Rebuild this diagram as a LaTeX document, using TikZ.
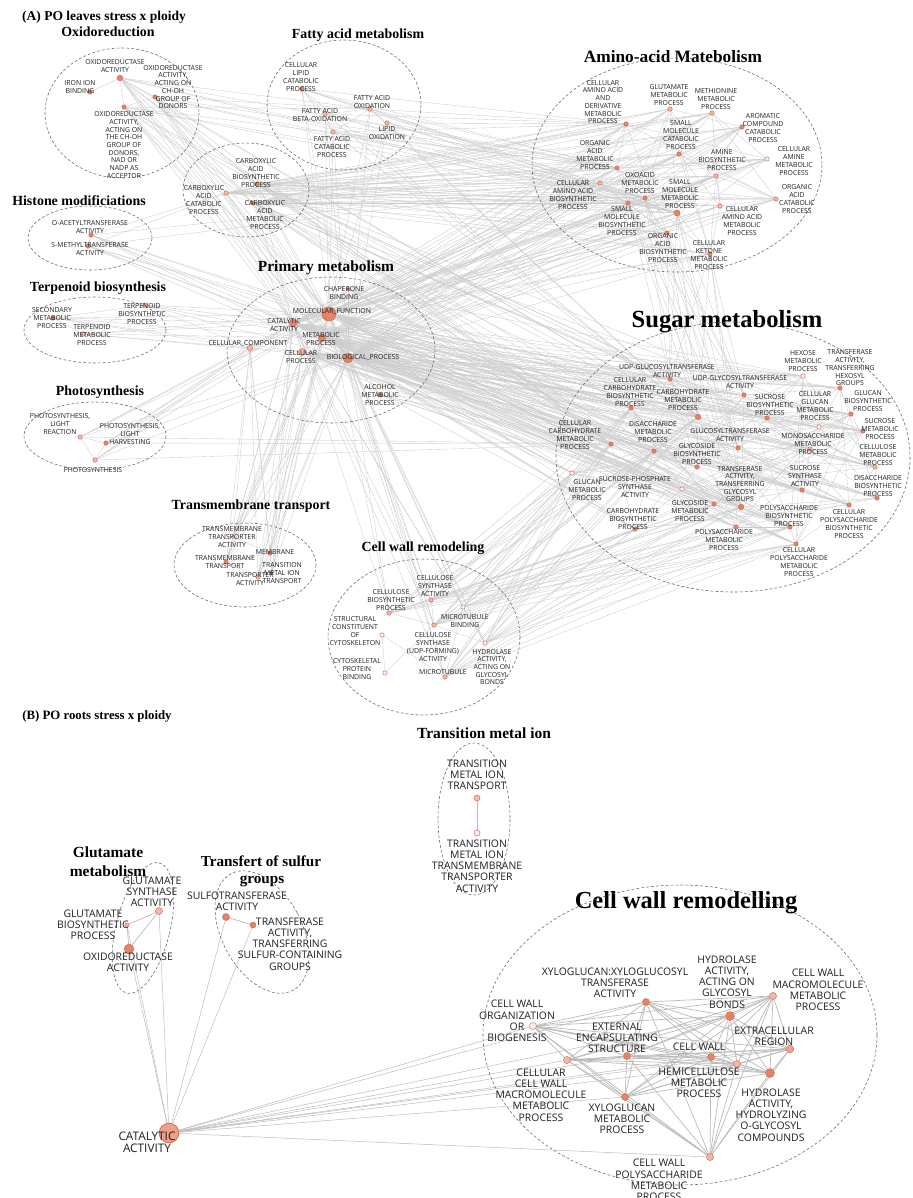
\documentclass[tikz,border=0pt]{standalone}
\usepackage{fontspec}
\setmainfont{Liberation Serif}
\newfontfamily\lblfont{Open Sans}
\usetikzlibrary{backgrounds}
\definecolor{dotfill}{RGB}{229,131,103}
\definecolor{dotline}{RGB}{200,102,78}
\definecolor{dotpale}{RGB}{243,184,166}
\definecolor{dotwhite}{RGB}{253,238,233}
\tikzset{term/.style={circle, draw=dotline, fill=dotfill, inner sep=0pt, minimum size=3.2pt, line width=0.3pt},
  termpale/.style={term, fill=dotpale},
  termhollow/.style={term, fill=dotwhite},
  lbl/.style={font=\lblfont\fontsize{4.9}{5.5}\selectfont, align=center, inner sep=0pt, text=black!88},
  lblB/.style={lbl, font=\lblfont\fontsize{7.4}{8}\selectfont},
  ttl/.style={font=\bfseries\fontsize{9.9}{12}\selectfont, inner sep=0pt, anchor=base},
  grp/.style={draw=black!60, line width=0.4pt, dash pattern=on 2pt off 1.5pt},
  lnk/.style={draw=black!20, line width=0.25pt},
  lnkB/.style={draw=black!27, line width=0.5pt}}

\begin{document}
\begin{tikzpicture}[x=0.025cm, y=-0.025cm]
  \useasboundingbox (0,0) rectangle (913,1198);

  % ---------- (A) leaves ----------
  \node[ttl, font=\bfseries\fontsize{9.6}{12}\selectfont] (ttlA) at (104,20) {(A) PO leaves stress x ploidy};

  % Oxidoreduction
  \node[ttl] (ttlox) at (108,36) {Oxidoreduction};
  \draw[grp] (122,113) ellipse [x radius=77, y radius=65];
  \node[term, minimum size=4pt] (ox1) at (120,78) {};
  \node[term] (ox2) at (155,97) {};
  \node[term] (ox3) at (90,92) {};
  \node[term] (ox4) at (124,107) {};
  \node[lbl] (ox1-t) at (115,66) {OXIDOREDUCTASE\\ACTIVITY};
  \node[lbl] (ox2-t) at (173,87) {OXIDOREDUCTASE\\ACTIVITY,\\ACTING ON\\CH-OH\\GROUP OF\\DONORS};
  \node[lbl] (ox3-t) at (80,87) {IRON ION\\BINDING};
  \node[lbl] (ox4-t) at (124,145) {OXIDOREDUCTASE\\ACTIVITY,\\ACTING ON\\THE CH-OH\\GROUP OF\\DONORS,\\NAD OR\\NADP AS\\ACCEPTOR};

  % Histone modificiations
  \node[ttl] (ttlhi) at (79,205) {Histone modificiations};
  \draw[grp] (90,238) ellipse [x radius=62, y radius=32];
  \node[term] (hi1) at (91,235) {};
  \node[term] (hi2) at (88,246) {};
  \node[lbl] (hi1-t) at (90,227) {O-ACETYLTRANSFERASE\\ACTIVITY};
  \node[lbl] (hi2-t) at (90,249) {S-METHYLTRANSFERASE\\ACTIVITY};

  % Terpenoid biosynthesis
  \node[ttl] (ttltp) at (98,291) {Terpenoid biosynthesis};
  \draw[grp] (95,330) ellipse [x radius=71, y radius=33];
  \node[term] (tp1) at (53,318) {};
  \node[termpale] (tp2) at (145,305) {};
  \node[termpale] (tp3) at (83,334) {};
  \node[lbl] (tp1-t) at (52,318) {SECONDARY\\METABOLIC\\PROCESS};
  \node[lbl] (tp2-t) at (142,314) {TERPENOID\\BIOSYNTHETIC\\PROCESS};
  \node[lbl] (tp3-t) at (92,335) {TERPENOID\\METABOLIC\\PROCESS};

  % Photosynthesis
  \node[ttl] (ttlph) at (100,395) {Photosynthesis};
  \draw[grp] (95,436) ellipse [x radius=71, y radius=34];
  \node[termpale] (ph1) at (80,437) {};
  \node[term] (ph2) at (106,443) {};
  \node[termpale] (ph3) at (95,460) {};
  \node[lbl] (ph1-t) at (60,424) {PHOTOSYNTHESIS,\\LIGHT\\REACTION};
  \node[lbl] (ph2-t) at (130,434) {PHOTOSYNTHESIS,\\LIGHT\\HARVESTING};
  \node[lbl] (ph3-t) at (93,470) {PHOTOSYNTHESIS};

  % Fatty acid metabolism
  \node[ttl] (ttlfa) at (358,38) {Fatty acid metabolism};
  \draw[grp] (344,105) ellipse [x radius=77, y radius=65];
  \node[term] (fa1) at (302,89) {};
  \node[termpale] (fa2) at (370,109) {};
  \node[termpale] (fa3) at (325,114) {};
  \node[termpale] (fa4) at (387,123) {};
  \node[termpale] (fa5) at (333,132) {};
  \node[lbl] (fa1-t) at (301,77) {CELLULAR\\LIPID\\CATABOLIC\\PROCESS};
  \node[lbl] (fa2-t) at (372,102) {FATTY ACID\\OXIDATION};
  \node[lbl] (fa3-t) at (320,115) {FATTY ACID\\BETA-OXIDATION};
  \node[lbl] (fa4-t) at (387,133) {LIPID\\OXIDATION};
  \node[lbl] (fa5-t) at (332,147) {FATTY ACID\\CATABOLIC\\PROCESS};

  % carboxylic acids
  \draw[grp] (246,190) ellipse [x radius=63, y radius=47];
  \node[term] (cb1) at (257,184) {};
  \node[termpale] (cb2) at (226,193) {};
  \node[term] (cb3) at (253,203) {};
  \node[lbl] (cb1-t) at (256,173) {CARBOXYLIC\\ACID\\BIOSYNTHETIC\\PROCESS};
  \node[lbl] (cb2-t) at (204,200) {CARBOXYLIC\\ACID\\CATABOLIC\\PROCESS};
  \node[lbl] (cb3-t) at (265,215) {CARBOXYLIC\\ACID\\METABOLIC\\PROCESS};

  % Amino-acid Matebolism
  \node[ttl, font=\bfseries\fontsize{12.3}{14}\selectfont] (ttlaa) at (673,62) {Amino-acid Matebolism};
  \draw[grp] (677,165) ellipse [x radius=145, y radius=107];
  \node[term] (aa1) at (626,124) {};
  \node[termpale] (aa2) at (670,109) {};
  \node[termpale] (aa3) at (712,113) {};
  \node[term] (aa4) at (742,127) {};
  \node[term] (aa5) at (679,154) {};
  \node[term] (aa6) at (617,168) {};
  \node[termpale] (aa7) at (716,176) {};
  \node[termhollow] (aa8) at (767,159) {};
  \node[term] (aa9) at (645,198) {};
  \node[termpale] (aa10) at (600,183) {};
  \node[term, minimum size=4.3pt] (aa11) at (677,213) {};
  \node[termpale] (aa12) at (776,199) {};
  \node[term] (aa13) at (628,203) {};
  \node[termpale] (aa14) at (720,206) {};
  \node[term] (aa15) at (667,233) {};
  \node[term] (aa16) at (710,254) {};
  \node[lbl] (aa1-t) at (603,102) {CELLULAR\\AMINO ACID\\AND\\DERIVATIVE\\METABOLIC\\PROCESS};
  \node[lbl] (aa2-t) at (669,95) {GLUTAMATE\\METABOLIC\\PROCESS};
  \node[lbl] (aa3-t) at (716,99) {METHIONINE\\METABOLIC\\PROCESS};
  \node[lbl] (aa4-t) at (763,128) {AROMATIC\\COMPOUND\\CATABOLIC\\PROCESS};
  \node[lbl] (aa5-t) at (681,135) {SMALL\\MOLECULE\\CATABOLIC\\PROCESS};
  \node[lbl] (aa6-t) at (595,155) {ORGANIC\\ACID\\METABOLIC\\PROCESS};
  \node[lbl] (aa7-t) at (722,160) {AMINE\\BIOSYNTHETIC\\PROCESS};
  \node[lbl] (aa8-t) at (794,161) {CELLULAR\\AMINE\\METABOLIC\\PROCESS};
  \node[lbl] (aa9-t) at (640,183) {OXOACID\\METABOLIC\\PROCESS};
  \node[lbl] (aa10-t) at (573,195) {CELLULAR\\AMINO ACID\\BIOSYNTHETIC\\PROCESS};
  \node[lbl] (aa11-t) at (680,194) {SMALL\\MOLECULE\\METABOLIC\\PROCESS};
  \node[lbl] (aa12-t) at (797,199) {ORGANIC\\ACID\\CATABOLIC\\PROCESS};
  \node[lbl] (aa13-t) at (622,221) {SMALL\\MOLECULE\\BIOSYNTHETIC\\PROCESS};
  \node[lbl] (aa14-t) at (742,221) {CELLULAR\\AMINO ACID\\METABOLIC\\PROCESS};
  \node[lbl] (aa15-t) at (663,248) {ORGANIC\\ACID\\BIOSYNTHETIC\\PROCESS};
  \node[lbl] (aa16-t) at (709,255) {CELLULAR\\KETONE\\METABOLIC\\PROCESS};

  % Primary metabolism
  \node[ttl, font=\bfseries\fontsize{11}{13}\selectfont] (ttlpm) at (326,271) {Primary metabolism};
  \draw[grp] (331,350) ellipse [x radius=104, y radius=73];
  \node[term, minimum size=2.6pt] (chap) at (348,289) {};
  \node[term, minimum size=10pt] (mf) at (329,314) {};
  \node[term, minimum size=5.7pt] (ca) at (293,323) {};
  \node[term, minimum size=5pt] (mp) at (322,338) {};
  \node[termpale, minimum size=4pt] (cc) at (250,348) {};
  \node[termpale, minimum size=5pt] (cp) at (302,352) {};
  \node[term, minimum size=7pt] (bp) at (348,358) {};
  \node[term] (alc) at (380,395) {};
  \node[lbl] (chap-t) at (344,293) {CHAPERONE\\BINDING};
  \node[lbl] (mf-t) at (332,312) {MOLECULAR\_FUNCTION};
  \node[lbl] (ca-t) at (284,325) {CATALYTIC\\ACTIVITY};
  \node[lbl] (mp-t) at (321,339) {METABOLIC\\PROCESS};
  \node[lbl] (cc-t) at (248,344) {CELLULAR\_COMPONENT};
  \node[lbl] (cp-t) at (301,357) {CELLULAR\\PROCESS};
  \node[lbl] (bp-t) at (363,358) {BIOLOGICAL\_PROCESS};
  \node[lbl] (alc-t) at (380,395) {ALCOHOL\\METABOLIC\\PROCESS};

  % Sugar metabolism
  \node[ttl, font=\bfseries\fontsize{17.5}{20}\selectfont] (ttlsg) at (727,327) {Sugar metabolism};
  \draw[grp] (733,457) ellipse [x radius=177, y radius=135];
  \node[term] (sg1) at (670,379) {};
  \node[termhollow] (sg2) at (803,376) {};
  \node[term] (sg3) at (840,388) {};
  \node[term] (sg4) at (631,408) {};
  \node[term] (sg5) at (744,395) {};
  \node[term, minimum size=4pt] (sg6) at (698,417) {};
  \node[term] (sg7) at (767,418) {};
  \node[termhollow] (sg8) at (819,427) {};
  \node[term] (sg9) at (851,414) {};
  \node[term] (sg10) at (611,444) {};
  \node[term] (sg11) at (654,451) {};
  \node[term] (sg12) at (738,448) {};
  \node[term] (sg13) at (863,431) {};
  \node[termpale] (sg14) at (810,449) {};
  \node[term] (sg15) at (697,467) {};
  \node[termpale] (sg16) at (875,467) {};
  \node[termhollow] (sg17) at (572,473) {};
  \node[termhollow] (sg18) at (682,489) {};
  \node[term, minimum size=4pt] (sg19) at (741,507) {};
  \node[term] (sg20) at (802,490) {};
  \node[term] (sg21) at (877,498) {};
  \node[term] (sg22) at (714,504) {};
  \node[term] (sg23) at (635,529) {};
  \node[term] (sg24) at (790,527) {};
  \node[term] (sg25) at (849,505) {};
  \node[term] (sg26) at (736,527) {};
  \node[term] (sg27) at (796,544) {};
  \node[lbl] (sg1-t) at (667,371) {UDP-GLUCOSYLTRANSFERASE\\ACTIVITY};
  \node[lbl] (sg2-t) at (803,361) {HEXOSE\\METABOLIC\\PROCESS};
  \node[lbl] (sg3-t) at (850,368) {TRANSFERASE\\ACTIVITY,\\TRANSFERRING\\HEXOSYL\\GROUPS};
  \node[lbl] (sg4-t) at (630,392) {CELLULAR\\CARBOHYDRATE\\BIOSYNTHETIC\\PROCESS};
  \node[lbl] (sg5-t) at (740,382) {UDP-GLYCOSYLTRANSFERASE\\ACTIVITY};
  \node[lbl] (sg6-t) at (683,400) {CARBOHYDRATE\\METABOLIC\\PROCESS};
  \node[lbl] (sg7-t) at (770,405) {SUCROSE\\BIOSYNTHETIC\\PROCESS};
  \node[lbl] (sg8-t) at (815,406) {CELLULAR\\GLUCAN\\METABOLIC\\PROCESS};
  \node[lbl] (sg9-t) at (868,401) {GLUCAN\\BIOSYNTHETIC\\PROCESS};
  \node[lbl] (sg10-t) at (575,435) {CELLULAR\\CARBOHYDRATE\\METABOLIC\\PROCESS};
  \node[lbl] (sg11-t) at (653,432) {DISACCHARIDE\\METABOLIC\\PROCESS};
  \node[lbl] (sg12-t) at (730,435) {GLUCOSYLTRANSFERASE\\ACTIVITY};
  \node[lbl] (sg13-t) at (880,429) {SUCROSE\\METABOLIC\\PROCESS};
  \node[lbl] (sg14-t) at (813,444) {MONOSACCHARIDE\\METABOLIC\\PROCESS};
  \node[lbl] (sg15-t) at (697,454) {GLYCOSIDE\\BIOSYNTHETIC\\PROCESS};
  \node[lbl] (sg16-t) at (878,455) {CELLULOSE\\METABOLIC\\PROCESS};
  \node[lbl] (sg17-t) at (587,490) {GLUCAN\\METABOLIC\\PROCESS};
  \node[lbl] (sg18-t) at (635,487) {SUCROSE-PHOSPHATE\\SYNTHASE\\ACTIVITY};
  \node[lbl] (sg19-t) at (740,484) {TRANSFERASE\\ACTIVITY,\\TRANSFERRING\\GLYCOSYL\\GROUPS};
  \node[lbl] (sg20-t) at (805,476) {SUCROSE\\SYNTHASE\\ACTIVITY};
  \node[lbl] (sg21-t) at (878,486) {DISACCHARIDE\\BIOSYNTHETIC\\PROCESS};
  \node[lbl] (sg22-t) at (690,511) {GLYCOSIDE\\METABOLIC\\PROCESS};
  \node[lbl] (sg23-t) at (633,519) {CARBOHYDRATE\\BIOSYNTHETIC\\PROCESS};
  \node[lbl] (sg24-t) at (789,516) {POLYSACCHARIDE\\BIOSYNTHETIC\\PROCESS};
  \node[lbl] (sg25-t) at (849,524) {CELLULAR\\POLYSACCHARIDE\\BIOSYNTHETIC\\PROCESS};
  \node[lbl] (sg26-t) at (724,540) {POLYSACCHARIDE\\METABOLIC\\PROCESS};
  \node[lbl] (sg27-t) at (799,562) {CELLULAR\\POLYSACCHARIDE\\METABOLIC\\PROCESS};

  % Transmembrane transport
  \node[ttl] (ttltm) at (251,509) {Transmembrane transport};
  \draw[grp] (245,565) ellipse [x radius=71, y radius=42];
  \node[termpale, minimum size=2.6pt] (tm1) at (233,537) {};
  \node[term] (mem) at (270,553) {};
  \node[term] (tm2) at (226,562) {};
  \node[termpale, minimum size=2.6pt] (tm3) at (272,572) {};
  \node[termpale] (tm4) at (258,577) {};
  \node[lbl] (tm1-t) at (232,537) {TRANSMEMBRANE\\TRANSPORTER\\ACTIVITY};
  \node[lbl] (mem-t) at (275,552) {MEMBRANE};
  \node[lbl] (tm2-t) at (225,562) {TRANSMEMBRANE\\TRANSPORT};
  \node[lbl] (tm3-t) at (282,573) {TRANSITION\\METAL ION\\TRANSPORT};
  \node[lbl] (tm4-t) at (250,579) {TRANSPORTER\\ACTIVITY};

  % Cell wall remodeling
  \node[ttl] (ttlcw) at (423,551) {Cell wall remodeling};
  \draw[grp] (424,637) ellipse [x radius=96, y radius=78];
  \node[termpale] (cw1) at (431,600) {};
  \node[termpale] (cw2) at (389,613) {};
  \node[termhollow] (cw3) at (463,607) {};
  \node[termpale] (cw4) at (434,625) {};
  \node[termhollow] (cw5) at (382,635) {};
  \node[termhollow] (cw6) at (485,643) {};
  \node[termhollow] (cw7) at (385,673) {};
  \node[termpale] (cw8) at (445,677) {};
  \node[lbl] (cw1-t) at (435,586) {CELLULOSE\\SYNTHASE\\ACTIVITY};
  \node[lbl] (cw2-t) at (391,600) {CELLULOSE\\BIOSYNTHETIC\\PROCESS};
  \node[lbl] (cw3-t) at (465,621) {MICROTUBULE\\BINDING};
  \node[lbl] (cw4-t) at (433,647) {CELLULOSE\\SYNTHASE\\(UDP-FORMING)\\ACTIVITY};
  \node[lbl] (cw5-t) at (355,631) {STRUCTURAL\\CONSTITUENT\\OF\\CYTOSKELETON};
  \node[lbl] (cw6-t) at (492,667) {HYDROLASE\\ACTIVITY,\\ACTING ON\\GLYCOSYL\\BONDS};
  \node[lbl] (cw7-t) at (357,669) {CYTOSKELETAL\\PROTEIN\\BINDING};
  \node[lbl] (cw8-t) at (443,672) {MICROTUBULE};

  % ---------- (B) roots ----------
  \node[ttl, font=\bfseries\fontsize{9.1}{11}\selectfont] (ttlB) at (97,719) {(B) PO roots stress x ploidy};

  % Transition metal ion
  \node[ttl, font=\bfseries\fontsize{11}{13}\selectfont] (ttltr) at (484,738) {Transition metal ion};
  \draw[grp] (474,819) ellipse [x radius=36, y radius=76];
  \node[termpale, minimum size=4.3pt] (tmt) at (477,798) {};
  \node[termhollow, minimum size=4.3pt] (tmta) at (477,833) {};
  \node[lblB] (tmt-t) at (477,775) {TRANSITION\\METAL ION\\TRANSPORT};
  \node[lblB] (tmta-t) at (477,866) {TRANSITION\\METAL ION\\TRANSMEMBRANE\\TRANSPORTER\\ACTIVITY};

  % Glutamate metabolism
  \node[ttl, font=\bfseries\fontsize{11}{13}\selectfont] (ttlgl1) at (108,857) {Glutamate};
  \node[ttl, font=\bfseries\fontsize{11}{13}\selectfont] (ttlgl2) at (108,876) {metabolism};
  \draw[grp, rotate around={-14:(143,928)}] (143,928) ellipse [x radius=27, y radius=67];
  \node[termpale, minimum size=5pt] (gs) at (159,911) {};
  \node[termpale, minimum size=3pt] (gb) at (127,925) {};
  \node[term, minimum size=7pt] (oxB) at (129,949) {};
  \node[lblB] (gs-t) at (152,892) {GLUTAMATE\\SYNTHASE\\ACTIVITY};
  \node[lblB] (gb-t) at (93,925) {GLUTAMATE\\BIOSYNTHETIC\\PROCESS};
  \node[lblB] (oxB-t) at (128,962) {OXIDOREDUCTASE\\ACTIVITY};

  % Transfert of sulfur groups
  \node[ttl, font=\bfseries\fontsize{10.8}{13}\selectfont] (ttlsu1) at (261,866) {Transfert of sulfur};
  \node[ttl, font=\bfseries\fontsize{10.8}{13}\selectfont] (ttlsu2) at (262,883) {groups};
  \draw[grp, rotate around={28:(262,932)}] (262,932) ellipse [x radius=40, y radius=66];
  \node[term, minimum size=5pt] (sul) at (226,917) {};
  \node[term, minimum size=4.3pt] (trs) at (253,925) {};
  \node[lblB] (sul-t) at (237,901) {SULFOTRANSFERASE\\ACTIVITY};
  \node[lblB] (trs-t) at (290,944) {TRANSFERASE\\ACTIVITY,\\TRANSFERRING\\SULFUR-CONTAINING\\GROUPS};

  % Cell wall remodelling
  \node[ttl, font=\bfseries\fontsize{17.4}{20}\selectfont] (ttlcr) at (686,908) {Cell wall remodelling};
  \draw[grp] (680,1035) ellipse [x radius=197, y radius=150];
  \node[term, minimum size=5pt] (xg) at (646,1002) {};
  \node[term, minimum size=6.4pt] (hy1) at (730,1016) {};
  \node[termpale, minimum size=5pt] (cwm) at (773,996) {};
  \node[termhollow, minimum size=5pt] (cwo) at (533,1026) {};
  \node[term, minimum size=5pt] (eec) at (627,1056) {};
  \node[term, fill=dotpale!60!dotfill, minimum size=5.5pt] (ext) at (790,1049) {};
  \node[term, minimum size=5pt] (cwl) at (711,1057) {};
  \node[termpale, minimum size=5pt] (hem) at (737,1064) {};
  \node[termpale, minimum size=5pt] (ccw) at (567,1060) {};
  \node[term, minimum size=6.4pt] (hy2) at (770,1073) {};
  \node[term, minimum size=5pt] (xgm) at (625,1097) {};
  \node[termpale, minimum size=5pt] (cwp) at (710,1157) {};
  \node[lblB] (xg-t) at (615,983) {XYLOGLUCAN:XYLOGLUCOSYL\\TRANSFERASE\\ACTIVITY};
  \node[lblB] (hy1-t) at (727,982) {HYDROLASE\\ACTIVITY,\\ACTING ON\\GLYCOSYL\\BONDS};
  \node[lblB] (cwm-t) at (818,990) {CELL WALL\\MACROMOLECULE\\METABOLIC\\PROCESS};
  \node[lblB] (cwo-t) at (517,1021) {CELL WALL\\ORGANIZATION\\OR\\BIOGENESIS};
  \node[lblB] (eec-t) at (617,1038) {EXTERNAL\\ENCAPSULATING\\STRUCTURE};
  \node[lblB] (ext-t) at (774,1036) {EXTRACELLULAR\\REGION};
  \node[lblB] (cwl-t) at (699,1047) {CELL WALL};
  \node[lblB] (hem-t) at (699,1083) {HEMICELLULOSE\\METABOLIC\\PROCESS};
  \node[lblB] (ccw-t) at (541,1095) {CELLULAR\\CELL WALL\\MACROMOLECULE\\METABOLIC\\PROCESS};
  \node[lblB] (hy2-t) at (771,1115) {HYDROLASE\\ACTIVITY,\\HYDROLYZING\\O-GLYCOSYL\\COMPOUNDS};
  \node[lblB] (xgm-t) at (622,1119) {XYLOGLUCAN\\METABOLIC\\PROCESS};
  \node[lblB] (cwp-t) at (659,1180) {CELL WALL\\POLYSACCHARIDE\\METABOLIC\\PROCESS};

  \node[term, fill=dotpale!55!dotfill, minimum size=14pt, line width=0.5pt] (catB) at (169,1133) {};
  \node[lblB, font=\lblfont\fontsize{8.4}{8.5}\selectfont] (catB-t) at (147,1142) {CATALYTIC\\ACTIVITY};

  % ---------- connectors ----------
  \begin{scope}[on background layer]
    % hubs of primary metabolism
    \foreach \a in {mf,bp,ca,mp,cp}
      \foreach \i in {1,...,27}
        \draw[lnk] (\a) -- (sg\i);
    \foreach \a in {mf,bp,ca,mp}
      \foreach \i in {1,...,16}
        \draw[lnk] (\a) -- (aa\i);
    \foreach \a/\b in {mf/bp,mf/ca,mf/mp,mf/cp,mf/cc,mf/chap,bp/ca,bp/mp,bp/cp,bp/alc,ca/mp,ca/cp,ca/cc,mp/cp,cp/cc,chap/bp,alc/mf}
      \draw[lnk] (\a) -- (\b);
    \foreach \a in {alc,chap}
      \foreach \i in {2,6,10,15,19,24}
        \draw[lnk] (\a) -- (sg\i);
    % carboxylic acids
    \foreach \a in {cb1,cb2,cb3}
      \foreach \i in {1,...,16}
        \draw[lnk] (\a) -- (aa\i);
    \foreach \a in {cb1,cb3}
      \foreach \i in {1,4,...,25}
        \draw[lnk] (\a) -- (sg\i);
    \foreach \a/\b in {cb1/cb2,cb1/cb3,cb2/cb3}
      \draw[lnk] (\a) -- (\b);
    \foreach \a in {cb1,cb2,cb3}
      \foreach \b in {mf,bp,ca}
        \draw[lnk] (\a) -- (\b);
    % fatty acids
    \foreach \a/\b in {fa1/fa3,fa1/fa2,fa3/fa2,fa5/fa2,fa2/fa4,fa5/fa3,fa1/fa5}
      \draw[lnk] (\a) -- (\b);
    \foreach \a in {fa1,fa2,fa3,fa4,fa5}
      \foreach \b in {mf,bp,aa1,aa6,aa9,aa11,sg6}
        \draw[lnk] (\a) -- (\b);
    % oxidoreduction
    \foreach \a/\b in {ox1/ox2,ox1/ox4,ox2/ox4,ox1/ox3}
      \draw[lnk] (\a) -- (\b);
    \foreach \a in {ox1,ox2,ox4}
      \foreach \b in {mf,bp,ca,mp,cb1,cb3,fa2,aa6,aa9,aa11,sg6,sg10}
        \draw[lnk] (\a) -- (\b);
    % histone, terpenoid, photosynthesis
    \draw[lnk] (hi1) -- (hi2);
    \foreach \a in {hi1,hi2}
      \foreach \b in {mf,ca,bp,cb2,sg4,sg10,aa10}
        \draw[lnk] (\a) -- (\b);
    \foreach \a/\b in {tp1/tp3,tp3/tp2,tp1/tp2,ph1/ph2,ph2/ph3,ph1/ph3}
      \draw[lnk] (\a) -- (\b);
    \foreach \a in {tp1,tp2,tp3}
      \foreach \b in {mf,ca,mp,bp,cc}
        \draw[lnk] (\a) -- (\b);
    \foreach \a in {ph1,ph2,ph3}
      \foreach \b in {mf,ca,bp,cc,sg10}
        \draw[lnk] (\a) -- (\b);
    % transmembrane transport
    \foreach \a/\b in {tm1/mem,tm2/mem,tm3/mem,tm4/mem,tm1/tm2,tm2/tm4}
      \draw[lnk] (\a) -- (\b);
    \foreach \a in {tm1,mem,tm2,tm3,tm4}
      \foreach \b in {mf,bp,ca,mp,cp,cc}
        \draw[lnk] (\a) -- (\b);
    % cell wall remodeling
    \foreach \a/\b in {cw1/cw2,cw1/cw4,cw2/cw4,cw3/cw4,cw3/cw8,cw5/cw8,cw5/cw7,cw6/cw4,cw3/cw6,cw7/cw4}
      \draw[lnk] (\a) -- (\b);
    \foreach \a in {cw1,cw2,cw3,cw4,cw6,cw8}
      \foreach \b in {mf,bp,ca,sg4,sg6,sg10,sg11,sg17,sg19,sg22,sg23,sg24,sg26,sg27}
        \draw[lnk] (\a) -- (\b);
    % inside sugar and amino-acid groups
    \foreach \i in {1,...,27}
      \foreach \k in {2,5,9,14}
      {
        \pgfmathtruncatemacro\j{mod(\i+\k-1,27)+1}
        \draw[lnk] (sg\i) -- (sg\j);
      }
    \foreach \i in {1,...,16}
      \foreach \k in {2,5,9}
      {
        \pgfmathtruncatemacro\j{mod(\i+\k-1,16)+1}
        \draw[lnk] (aa\i) -- (aa\j);
      }
    \foreach \a in {aa9,aa11,aa13,aa15,aa16}
      \foreach \b in {sg1,sg5,sg6,sg12,sg19}
        \draw[lnk] (\a) -- (\b);

    % panel B
    \draw[lnkB] (tmt) -- (tmta);
    \foreach \a/\b in {gs/gb,gs/oxB,gb/oxB,sul/trs}
      \draw[lnkB] (\a) -- (\b);
    \foreach \b in {gs,gb,oxB,sul,trs,cwo,ccw,eec,xg,cwl,hem,xgm,hy1,ext,cwp}
      \draw[lnkB, line width=0.35pt] (catB) -- (\b);
    \foreach \a [count=\n] in {cwo,xg,hy1,cwm,eec,ext,cwl,hem,ccw,hy2,xgm,cwp}
      \foreach \b [count=\m] in {cwo,xg,hy1,cwm,eec,ext,cwl,hem,ccw,hy2,xgm,cwp}
        {\ifnum\m>\n \draw[lnkB] (\a) -- (\b); \fi}
  \end{scope}
\end{tikzpicture}
\end{document}
